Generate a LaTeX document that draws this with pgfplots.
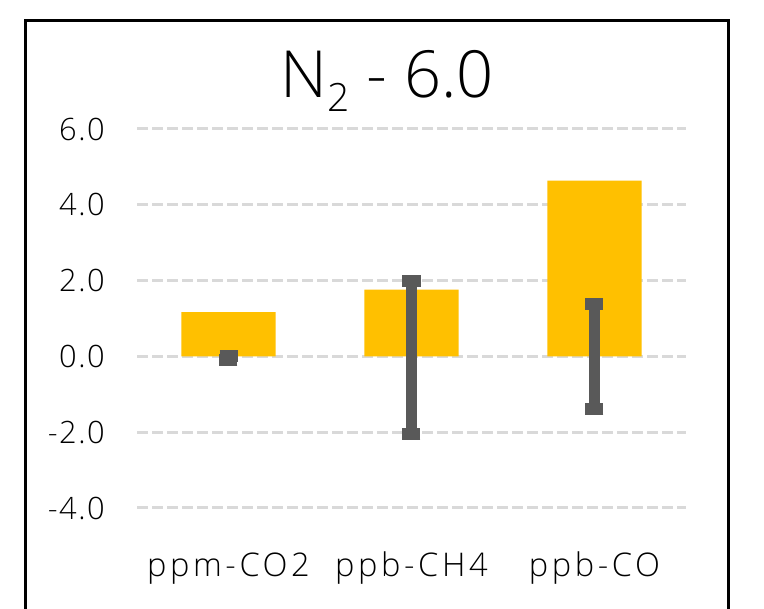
\documentclass[border=0pt]{standalone}
\usepackage{fontspec}
\setmainfont{Open Sans Light}
\newfontfamily\catfont[LetterSpace=11]{Open Sans Light}
\newfontfamily\tickfont[LetterSpace=5]{Open Sans Light}
\usepackage{pgfplots}
\pgfplotsset{compat=1.18}
\definecolor{barc}{HTML}{FFC000}
\definecolor{errc}{HTML}{595959}
\definecolor{gridc}{HTML}{D9D9D9}
\begin{document}
\begin{tikzpicture}
\path[use as bounding box, fill=white] (0,0) rectangle (764pt,609pt);
\begin{axis}[
  at={(137pt,101pt)}, anchor=south west,
  scale only axis, width=549pt, height=379pt,
  xmin=-0.5, xmax=2.5, ymin=-4, ymax=6,
  xtick={0,1,2}, xticklabels={ppm-CO2, ppb-CH4, ppb-CO},
  ytick={-4,-2,0,2,4,6},
  axis line style={draw=none}, major tick length=0pt,
  ymajorgrids, grid style={gridc, line width=3pt, dash pattern=on 11pt off 4pt},
  yticklabel style={font=\tickfont\fontsize{30.8}{36}\selectfont, anchor=east, inner sep=0pt, xshift=-32pt,
    /pgf/number format/fixed, /pgf/number format/fixed zerofill,
    /pgf/number format/precision=1, /pgf/number format/assume math mode=true},
  xticklabel style={font=\catfont\fontsize{32.6}{38}\selectfont, anchor=base, inner sep=0pt, yshift=-69pt},
  clip=false,
]
\addplot[ybar, bar width=94pt, fill=barc, draw=none] coordinates {(0,1.17) (1,1.76) (2,4.64)};
\addplot[only marks, mark=none, errc,
  error bars/.cd, y dir=both, y explicit,
  error bar style={line width=10pt, errc, line cap=butt},
  error mark=|, error mark options={line width=12pt, mark size=9pt, errc, line cap=butt}]
  coordinates {(0,-0.04) +- (0,0.05) (1,-0.03) +- (0,2.03) (2,0.0) +- (0,1.385)};
\end{axis}
\node[anchor=base, font=\fontsize{65}{70}\selectfont] at (387pt,511pt) {N\raisebox{-14pt}{\fontsize{39}{40}\selectfont 2} - 6.0};
\draw[line width=3pt] (25pt,-20pt) rectangle (728pt,588pt);
\end{tikzpicture}
\end{document}
